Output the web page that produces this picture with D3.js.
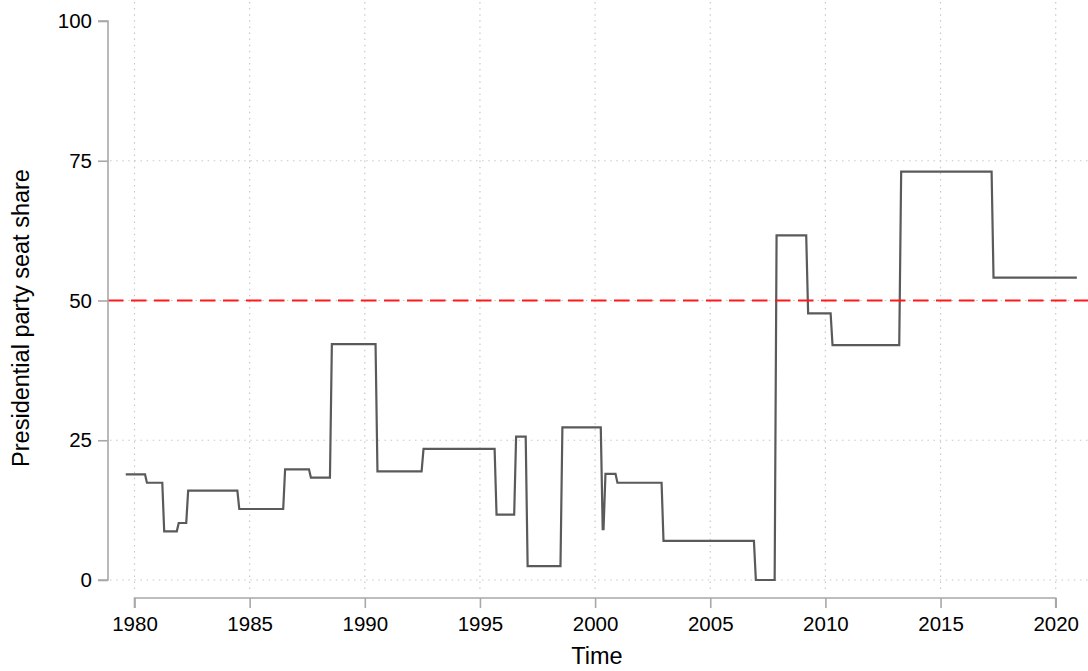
<!DOCTYPE html>
<html>
<head>
<meta charset="utf-8">
<script src="https://cdn.jsdelivr.net/npm/d3@7"></script>
<style>
  html, body { margin: 0; padding: 0; background: #fff; }
  svg { display: block; font-family: "Liberation Sans", Arial, Helvetica, sans-serif; }
</style>
</head>
<body>
<svg id="chart" width="1088" height="671"></svg>
<script>
// ---- data ----
const segmentStarts = [1979.62, 1980.54, 1981.29, 1981.92, 1982.33, 1984.55, 1986.54, 1987.66,
  1988.57, 1990.55, 1992.55, 1995.72, 1996.57, 1997.07, 1998.58, 2000.33, 2000.45, 2000.97,
  2002.97, 2006.98, 2007.88, 2009.25, 2010.31, 2013.29, 2017.30];
const segmentValues = [18.9, 17.4, 8.7, 10.2, 16.0, 12.7, 19.8, 18.3,
  42.2, 19.45, 23.45, 11.7, 25.65, 2.5, 27.3, 9.1, 19.0, 17.4,
  7.0, 0.0, 61.65, 47.7, 42.0, 73.05, 54.1];
const seriesEnd = 2020.92;
const xTicks = [1980, 1985, 1990, 1995, 2000, 2005, 2010, 2015, 2020];
const yTicks = [0, 25, 50, 75, 100];
const yGrid = [0, 25, 50, 75];
const threshold = 50;
const xTitle = "Time";
const yTitle = "Presidential party seat share";

// ---- build monthly-style points from the step data ----
const pts = [];
segmentStarts.forEach((s, i) => {
  const next = i < segmentStarts.length - 1 ? segmentStarts[i + 1] - 1 / 12 : seriesEnd;
  pts.push({ t: s, v: segmentValues[i] });
  if (next > s + 0.01) pts.push({ t: next, v: segmentValues[i] });
});

const svg = d3.select("#chart");
const x = d3.scaleLinear().domain([1980, 2020]).range([134.5, 1055.7]);
const y = d3.scaleLinear().domain([0, 100]).range([580, 21]);

const gridColor = "#c8c8c8";
const axisColor = "#a8a8a8";
const font = "'Liberation Sans', Arial, Helvetica, sans-serif";

// grid
svg.append("g").selectAll("line").data(yGrid).join("line")
  .attr("x1", 110).attr("x2", 1088)
  .attr("y1", d => y(d)).attr("y2", d => y(d))
  .attr("stroke", gridColor).attr("stroke-width", 1.2)
  .attr("stroke-dasharray", "1.5,4.6");
svg.append("g").selectAll("line").data(xTicks).join("line")
  .attr("x1", d => x(d)).attr("x2", d => x(d))
  .attr("y1", 2).attr("y2", 592)
  .attr("stroke", gridColor).attr("stroke-width", 1.2)
  .attr("stroke-dasharray", "1.5,4.6");

// series
svg.append("path").datum(pts)
  .attr("fill", "none")
  .attr("stroke", "#5a5a5a")
  .attr("stroke-width", 2.2)
  .attr("stroke-linejoin", "miter")
  .attr("d", d3.line().x(d => x(d.t)).y(d => y(d.v)));

// threshold line
svg.append("line")
  .attr("x1", 108).attr("x2", 1088)
  .attr("y1", y(threshold)).attr("y2", y(threshold))
  .attr("stroke", "#ff1a1a").attr("stroke-width", 2)
  .attr("stroke-dasharray", "15.5,7.5");

// y axis
const yAxis = d3.axisLeft(y).tickValues(yTicks).tickSize(10).tickPadding(6).tickFormat(d3.format("d"));
const gy = svg.append("g").attr("transform", "translate(108,0)").call(yAxis);
gy.select(".domain").attr("stroke", axisColor).attr("stroke-width", 1.6).attr("d", `M-10,${y(100)}H0V${y(0)}H-10`);
gy.selectAll(".tick line").attr("stroke", axisColor).attr("stroke-width", 1.6);
gy.selectAll(".tick text").attr("fill", "#000").style("font-size", "20.5px").style("font-family", font);

// x axis
const xAxis = d3.axisBottom(x).tickValues(xTicks).tickSize(10).tickPadding(8).tickFormat(d3.format("d"));
const gx = svg.append("g").attr("transform", "translate(0,598)").call(xAxis);
gx.select(".domain").attr("stroke", axisColor).attr("stroke-width", 1.6).attr("d", `M${x(1980)},10V0H${x(2020)}V10`);
gx.selectAll(".tick line").attr("stroke", axisColor).attr("stroke-width", 1.6);
gx.selectAll(".tick text").attr("fill", "#000").style("font-size", "20.5px").style("font-family", font);

// titles
svg.append("text").attr("x", 597).attr("y", 664).attr("text-anchor", "middle")
  .style("font-size", "23.5px").style("font-family", font).attr("fill", "#000").text(xTitle);
svg.append("text").attr("transform", "translate(29,318) rotate(-90)").attr("text-anchor", "middle")
  .style("font-size", "23.5px").style("font-family", font).attr("fill", "#000").text(yTitle);
</script>
</body>
</html>
